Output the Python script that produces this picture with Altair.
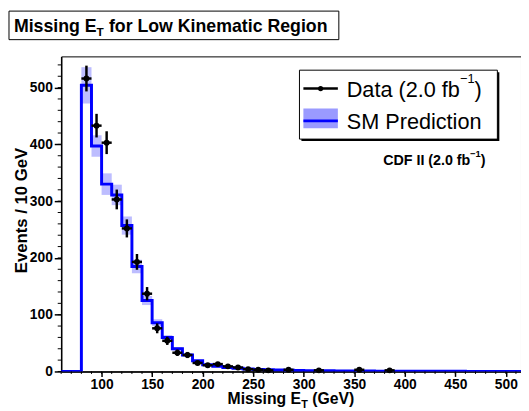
import altair as alt
import pandas as pd

# ---------------- data ----------------
# SM prediction: lower bin edges (GeV), events / 10 GeV, uncertainty
sm_edges = [80, 90, 100, 110, 120, 130, 140, 150, 160, 170,
            180, 190, 200, 210, 220, 230, 240, 250, 260, 270,
            280, 290, 300, 310, 320, 330, 340, 350, 360, 370,
            380, 390, 400, 410, 420, 430, 440, 450, 460, 470,
            480, 490, 500, 510]
sm_values = [504, 397, 330, 311, 257, 185, 125, 86, 60, 40,
             29, 19, 12, 9, 7, 5.5, 4.5, 3.5, 3, 2.5,
             2, 1.8, 1.5, 1.3, 1.1, 1.0, 0.9, 0.8, 0.7, 0.6,
             0.55, 0.5, 0.45, 0.4, 0.35, 0.3, 0.3, 0.25, 0.2, 0.2,
             0.15, 0.15, 0.1, 0.1]
sm_unc = [32, 19, 19, 18, 16, 12, 8, 6, 4, 3,
          2.5, 1.5, 1, 0.8, 0.6, 0.5, 0.4, 0.3, 0.3, 0.2,
          0.2, 0.2, 0.1, 0.1, 0.1, 0.1, 0.1, 0.1, 0.1, 0.1,
          0.1, 0.1, 0.1, 0.1, 0.1, 0.1, 0.1, 0.1, 0.1, 0.1,
          0.1, 0.1, 0.1, 0.1]

# Data (2.0 fb^-1): bin centres, counts, errors
data_centers = [85, 95, 105, 115, 125, 135, 145, 155, 165, 175, 185, 195,
                205, 215, 225, 235, 245, 255, 265, 285, 315, 355, 385]
data_counts = [516, 433, 403, 303, 252, 193, 137, 76, 54, 33, 29, 15,
               11, 13, 9, 7, 4, 3, 2, 3, 2, 3, 2]
data_err = [22.7, 20.8, 20.1, 17.4, 15.9, 13.9, 11.7, 8.7, 7.3, 5.7, 5.4, 3.9,
            3.3, 3.6, 3.0, 2.6, 2.0, 1.7, 1.4, 1.7, 1.4, 1.7, 1.4]

x_major = [100, 150, 200, 250, 300, 350, 400, 450, 500]
y_major = [0, 100, 200, 300, 400, 500]
x_minor = list(range(60, 516, 10))
y_minor = list(range(0, 555, 20))

X_MIN, X_MAX = 60, 515
Y_MIN, Y_MAX = 0, 555
BIN = 10

FONT = "Liberation Sans"
BLUE = "#0000ff"
BAND = "#9a9aff"

# ---------------- tables ----------------
band_df = pd.DataFrame({
    "x0": sm_edges,
    "x1": [e + BIN for e in sm_edges],
    "lo": [v - u for v, u in zip(sm_values, sm_unc)],
    "hi": [v + u for v, u in zip(sm_values, sm_unc)],
})
step_df = pd.DataFrame({
    "x": [X_MIN] + sm_edges + [X_MAX],
    "y": [0] + sm_values + [sm_values[-1]],
})
pts_df = pd.DataFrame({
    "x": data_centers,
    "y": data_counts,
    "lo": [c - e for c, e in zip(data_counts, data_err)],
    "hi": [c + e for c, e in zip(data_counts, data_err)],
    "xl": [c - BIN / 2 for c in data_centers],
    "xr": [c + BIN / 2 for c in data_centers],
})
xminor_df = pd.DataFrame({"x": x_minor})
yminor_df = pd.DataFrame({"y": y_minor})
one = pd.DataFrame({"a": [0]})

xscale = alt.Scale(domain=[X_MIN, X_MAX], nice=False, zero=False)
yscale = alt.Scale(domain=[Y_MIN, Y_MAX], nice=False, zero=False)
xaxis = alt.Axis(values=x_major, tickSize=5, labelPadding=1, title=None,
                 labelFlush=False)
yaxis = alt.Axis(values=y_major, tickSize=7, labelPadding=2, title=None)


def X(f):
    return alt.X(f, type="quantitative", scale=xscale, axis=xaxis)


def Y(f):
    return alt.Y(f, type="quantitative", scale=yscale, axis=yaxis)


band = alt.Chart(band_df).mark_rect(fill=BAND, opacity=0.65).encode(
    x=X("x0"), x2="x1", y=Y("lo"), y2="hi")

line = alt.Chart(step_df).mark_line(
    interpolate="step-after", color=BLUE, strokeWidth=3, clip=True
).encode(x=X("x"), y=Y("y"))

vbars = alt.Chart(pts_df).mark_rule(color="black", strokeWidth=2.5).encode(
    x=X("x"), y=Y("lo"), y2="hi")
hbars = alt.Chart(pts_df).mark_rule(color="black", strokeWidth=2.5).encode(
    x=X("xl"), x2="xr", y=Y("y"))
dots = alt.Chart(pts_df).mark_circle(color="black", opacity=1, size=36).encode(
    x=X("x"), y=Y("y"))

xminor = alt.Chart(xminor_df).mark_rule(color="black", strokeWidth=1).encode(
    x=X("x"), y=alt.value(320), y2=alt.value(322.5))
yminor = alt.Chart(yminor_df).mark_rule(color="black", strokeWidth=1).encode(
    y=Y("y"), x=alt.value(-3.5), x2=alt.value(0))


def text(s, x, y, size, weight="bold", angle=0, align="left"):
    return alt.Chart(one).mark_text(
        text=s, font=FONT, fontSize=size, fontWeight=weight, align=align,
        baseline="alphabetic", angle=angle, color="black"
    ).encode(x=alt.value(x), y=alt.value(y))


def box(x0, x1, y0, y1, fill, stroke=None, sw=1):
    kw = dict(fill=fill)
    if stroke:
        kw.update(stroke=stroke, strokeWidth=sw)
    return alt.Chart(one).mark_rect(**kw).encode(
        x=alt.value(x0), x2=alt.value(x1), y=alt.value(y0), y2=alt.value(y1))


def hline(x0, x1, y, color, sw):
    return alt.Chart(one).mark_rule(color=color, strokeWidth=sw).encode(
        x=alt.value(x0), x2=alt.value(x1), y=alt.value(y))


# title box
title_layers = [
    box(-53, 282, -46, -17, "white", "black", 1),
    text("Missing E", -48, -25, 18),
    text("T", 36, -21, 12),
    text("for Low Kinematic Region", 48.5, -25, 18),
]

# axis titles
axis_titles = [
    text("Missing E", 169, 353.5, 16),
    text("T", 243.7, 357.5, 11),
    text("(GeV)", 254.9, 353.5, 16),
    text("Events / 10 GeV", -35, 156.5, 17, angle=270, align="center"),
]

# legend
legend_layers = [
    box(244, 445, 16, 86, "black"),
    box(242, 443, 14, 84, "white", "black", 1),
    hline(246, 281, 32.7, "black", 2.5),
    alt.Chart(one).mark_circle(color="black", opacity=1, size=28).encode(
        x=alt.value(263.5), y=alt.value(32.7)),
    text("Data (2.0 fb", 290, 41, 22, weight="normal"),
    text("\u22121", 405, 27.5, 13, weight="normal"),
    text(")", 419.8, 41, 22, weight="normal"),
    box(246, 281, 53, 73, BAND),
    hline(246, 281, 65.5, BLUE, 3),
    text("SM Prediction", 290, 73.3, 22, weight="normal"),
    text("CDF II (2.0 fb", 327, 110, 14.5),
    text("\u22121", 415.3, 102, 9.5),
    text(")", 426.1, 110, 14.5),
]

chart = alt.layer(
    band, line, vbars, hbars, dots, xminor, yminor,
    *title_layers, *axis_titles, *legend_layers
).properties(
    width=467, height=320,
    padding={"left": 54, "top": 46, "right": 0, "bottom": 37},
    autosize=alt.AutoSizeParams(type="none"),
    background="white",
).configure_view(
    stroke="black", strokeWidth=1
).configure_axis(
    labelFont=FONT, labelFontWeight="bold", labelFontSize=14, labelColor="black",
    domainColor="black", domainWidth=1.5, tickColor="black", tickWidth=1.5,
    grid=False,
)

chart.save("out.html", embed_options={"renderer": "svg", "actions": False})
